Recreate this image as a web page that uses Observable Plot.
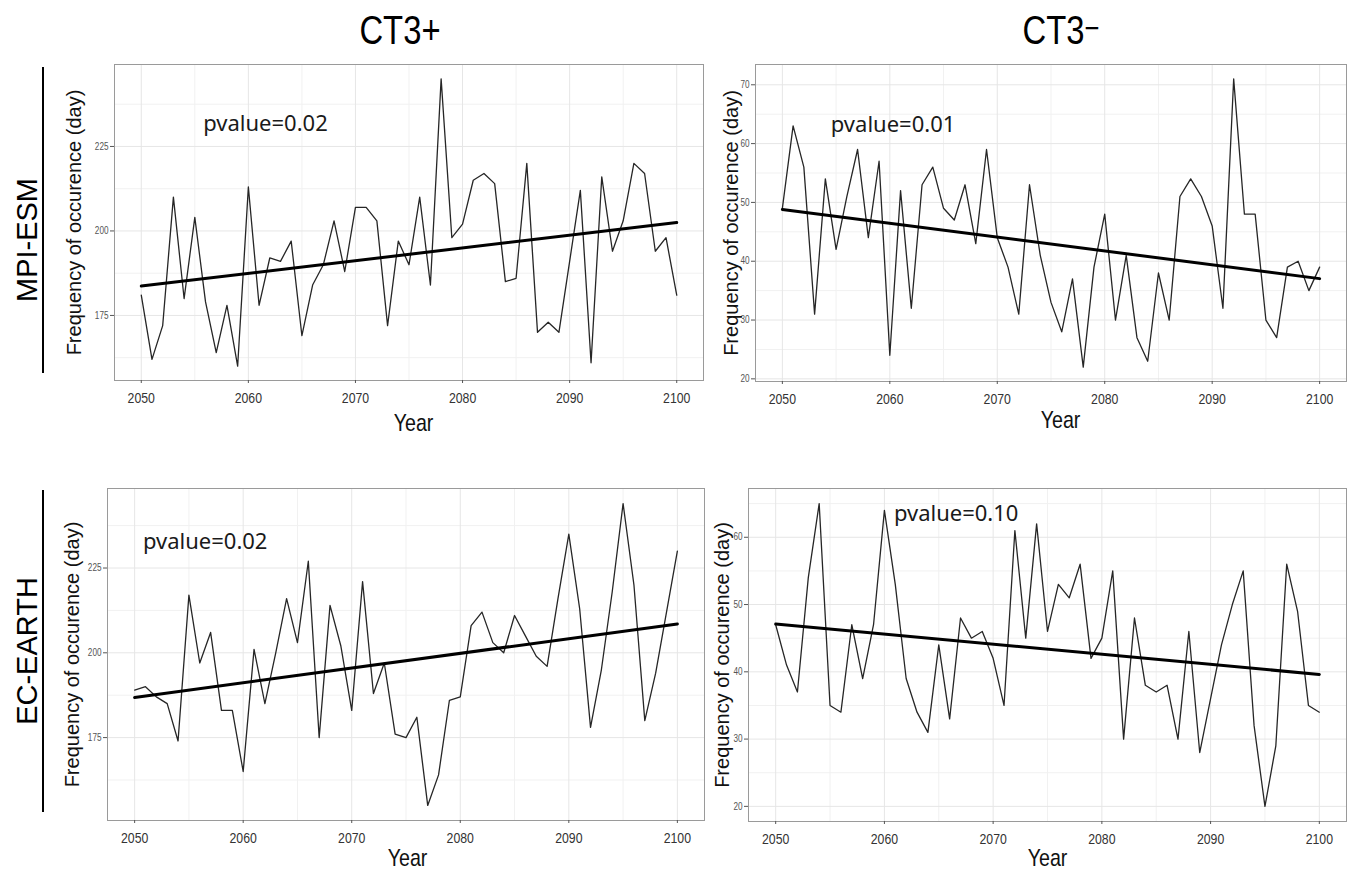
<!DOCTYPE html>
<html>
<head>
<meta charset="utf-8">
<script src="https://cdn.jsdelivr.net/npm/d3@7"></script>
<script src="https://cdn.jsdelivr.net/npm/@observablehq/plot@0.6"></script>
<style>
  html, body { margin: 0; padding: 0; background: #fff; }
  #fig { position: relative; width: 1355px; height: 873px; background: #fff; overflow: hidden; }
  .coltitle { position: absolute; top: 10px; transform: translateX(-50%) scaleX(0.8); font-family: "Liberation Sans", sans-serif; font-size: 41px; line-height: 41px; color: #000; white-space: nowrap; }
  .rowtitle { position: absolute; transform: translate(-50%, -50%) rotate(-90deg); font-family: "Liberation Sans", sans-serif; font-size: 29px; color: #000; white-space: nowrap; }
  .rowbar { position: absolute; left: 41.5px; width: 2.5px; background: #000; }
  #fig svg { position: absolute; }
</style>
</head>
<body>
<div id="fig">
  <div class="coltitle" style="left:400px">CT3+</div>
  <div class="coltitle" style="left:1061px">CT3<span style="font-size:32px;position:relative;top:-5px">−</span></div>
  <div class="rowtitle" style="left:27px;top:240px">MPI-ESM</div>
  <div class="rowtitle" style="left:27px;top:651px">EC-EARTH</div>
  <div class="rowbar" style="top:67px;height:306px"></div>
  <div class="rowbar" style="top:490px;height:322px"></div>
</div>
<script>
// ---------------- data ----------------
const years = d3.range(2050, 2101);
const xTicks = [2050, 2060, 2070, 2080, 2090, 2100];

// MPI-ESM, CT3+
const mpiPlus = [181, 162, 172, 210, 180, 204, 179, 164, 178, 160,
                 213, 178, 192, 191, 197, 169, 184, 190, 203, 188,
                 207, 207, 203, 172, 197, 190, 210, 184, 245, 198,
                 202, 215, 217, 214, 185, 186, 220, 170, 173, 170,
                 191, 212, 161, 216, 194, 203, 220, 217, 194, 198,
                 181];
// MPI-ESM, CT3-
const mpiMinus = [49, 63, 56, 31, 54, 42, 51, 59, 44, 57,
                  24, 52, 32, 53, 56, 49, 47, 53, 43, 59,
                  44, 39, 31, 53, 41, 33, 28, 37, 22, 39,
                  48, 30, 41, 27, 23, 38, 30, 51, 54, 51,
                  46, 32, 71, 48, 48, 30, 27, 39, 40, 35,
                  39];
// EC-EARTH, CT3+
const ecPlus = [189, 190, 187, 185, 174, 217, 197, 206, 183, 183,
                165, 201, 185, 200, 216, 203, 227, 175, 214, 202,
                183, 221, 188, 197, 176, 175, 181, 155, 164, 186,
                187, 208, 212, 203, 200, 211, 205, 199, 196, 216,
                235, 213, 178, 195, 218, 244, 220, 180, 194, 212,
                230];
// EC-EARTH, CT3-
const ecMinus = [47, 41, 37, 54, 65, 35, 34, 47, 39, 47,
                 64, 53, 39, 34, 31, 44, 33, 48, 45, 46,
                 42, 35, 61, 45, 62, 46, 53, 51, 56, 42,
                 45, 55, 30, 48, 38, 37, 38, 30, 46, 28,
                 36, 44, 50, 55, 32, 20, 29, 56, 49, 35,
                 34];

const yTicksPlus = [175, 200, 225];
const yTicksMinus = [20, 30, 40, 50, 60, 70];
const yTicksMinusEC = [20, 30, 40, 50, 60];

const pvalLabels = ["pvalue=0.02", "pvalue=0.01", "pvalue=0.02", "pvalue=0.10"];
const pvalX = [2061.6, 2060.3, 2056.5, 2066.6];
const pvalY = [231.8, 63.1, 232.6, 63.4];

const xTitle = "Year";
const yTitle = "Frequency of occurence (day)";

// ---------------- drawing ----------------
const fig = document.getElementById("fig");

function narrow(texts, k) {
  texts.forEach(t => {
    const tr = t.getAttribute("transform") || "";
    t.setAttribute("transform", tr + ` scale(${k},1)`);
  });
}

function drawPanel({values, yTicks, idx, frame, yTitleDx, xTitleDx, xTitleDy}) {
  const data = years.map((year, i) => ({year, value: values[i]}));
  const [lo, hi] = d3.extent(values);
  const pad = (hi - lo) * 0.05;
  const [x0, x1] = d3.extent(years);
  const xpad = (x1 - x0) * 0.05;
  const step = yTicks[1] - yTicks[0];
  const yMinor = d3.range(yTicks[0] - step / 2, hi + pad, step).filter(v => v > lo - pad);
  const xMinor = d3.range(x0 + 5, x1, 10);
  const mL = 80, mT = 10, mR = 12, mB = 62;
  const fw = frame.right - frame.left, fh = frame.bottom - frame.top;
  const ann = [{x: pvalX[idx], y: pvalY[idx], label: pvalLabels[idx]}];

  const svg = Plot.plot({
    width: mL + fw + mR,
    height: mT + fh + mB,
    marginLeft: mL, marginTop: mT, marginRight: mR, marginBottom: mB,
    style: {background: "transparent", fontFamily: "Liberation Sans, sans-serif", overflow: "visible"},
    x: {domain: [x0 - xpad, x1 + xpad]},
    y: {domain: [lo - pad, hi + pad]},
    marks: [
      Plot.gridY(yMinor, {stroke: "#f1f1f1", strokeOpacity: 1, strokeWidth: 1}),
      Plot.gridX(xMinor, {stroke: "#f1f1f1", strokeOpacity: 1, strokeWidth: 1}),
      Plot.gridY(yTicks, {stroke: "#e6e6e6", strokeOpacity: 1, strokeWidth: 1}),
      Plot.gridX(xTicks, {stroke: "#e6e6e6", strokeOpacity: 1, strokeWidth: 1}),
      Plot.frame({stroke: "#9a9a9a", strokeWidth: 1}),
      Plot.line(data, {x: "year", y: "value", stroke: "#262626", strokeWidth: 1.3}),
      Plot.linearRegressionY(data, {x: "year", y: "value", ci: 0, stroke: "#000", strokeWidth: 3}),
      Plot.text(ann, {x: "x", y: "y", text: "label", fontFamily: "Noto Sans", fontSize: 22, fill: "#1a1a1a"}),
      Plot.axisX(xTicks, {tickSize: 3, tickPadding: 9, fontSize: 15, fill: "#333", stroke: "#555", tickFormat: d => String(d), label: null}),
      Plot.axisY(yTicks, {tickSize: 4, tickPadding: 2, fontSize: 10, fill: "#555", stroke: "#555", label: null}),
      Plot.text([xTitle], {frameAnchor: "bottom", textAnchor: "middle", lineAnchor: "middle", dx: xTitleDx, dy: xTitleDy, fontSize: 24, fill: "#111"}),
      Plot.text([yTitle], {frameAnchor: "left", textAnchor: "middle", lineAnchor: "middle", rotate: -90, dx: yTitleDx, fontSize: 20, fill: "#111"})
    ]
  });
  const texts = Array.from(svg.querySelectorAll('g[aria-label="x-axis tick label"] text, g[aria-label="y-axis tick label"] text'))
    .concat(Array.from(svg.querySelectorAll("text")).filter(t => t.textContent === xTitle));
  narrow(texts, 0.82);
  svg.style.left = (frame.left - mL) + "px";
  svg.style.top = (frame.top - mT) + "px";
  fig.appendChild(svg);
}

drawPanel({values: mpiPlus, yTicks: yTicksPlus, idx: 0,
  frame: {left: 114, top: 64, right: 703, bottom: 380}, yTitleDx: -39.5, xTitleDx: 4.5, xTitleDy: 43});
drawPanel({values: mpiMinus, yTicks: yTicksMinus, idx: 1,
  frame: {left: 755, top: 64, right: 1346, bottom: 381}, yTitleDx: -23.5, xTitleDx: 9.5, xTitleDy: 39});
drawPanel({values: ecPlus, yTicks: yTicksPlus, idx: 2,
  frame: {left: 107, top: 488, right: 704, bottom: 820}, yTitleDx: -35, xTitleDx: 1.5, xTitleDy: 38});
drawPanel({values: ecMinus, yTicks: yTicksMinusEC, idx: 3,
  frame: {left: 748, top: 488, right: 1346, bottom: 821}, yTitleDx: -26, xTitleDx: 0, xTitleDy: 37});
</script>
</body>
</html>
